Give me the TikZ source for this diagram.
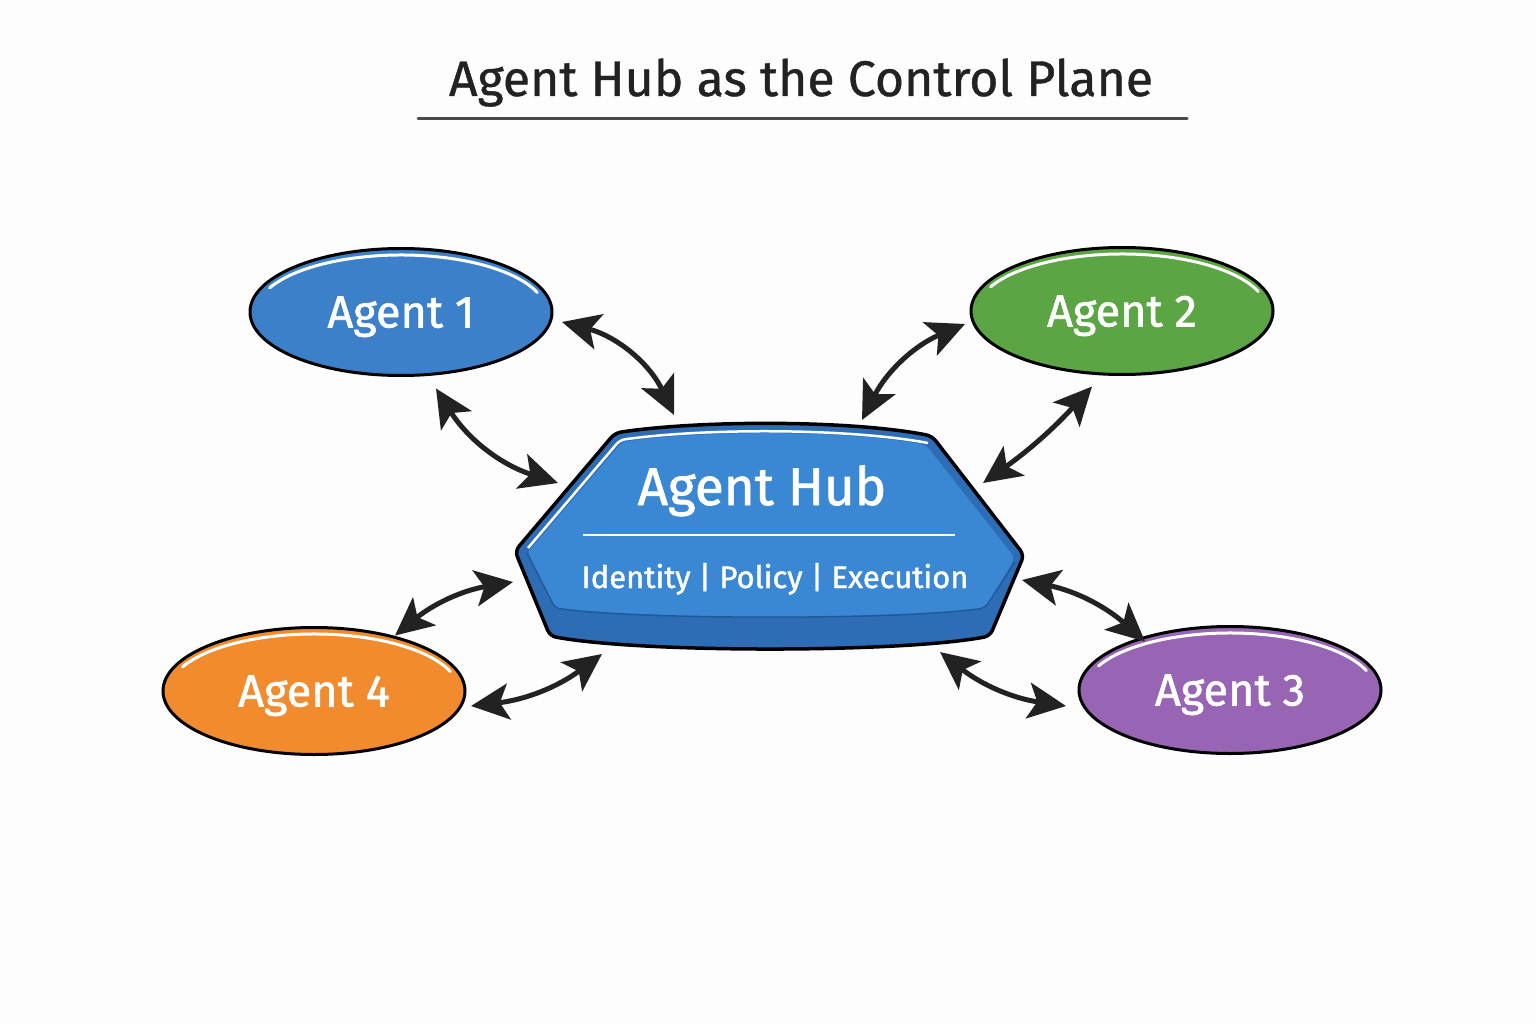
\documentclass[tikz,border=0pt]{standalone}
\usepackage{fontspec}
\setmainfont{Fira Sans}
\newfontfamily\medfont{Fira Sans}[FakeBold=1.3]
\newfontfamily\titlefont{Fira Sans}[FakeBold=0.8]
\usetikzlibrary{arrows.meta,shapes.geometric}
\definecolor{bgc}{HTML}{FDFDFD}
\definecolor{ablue}{HTML}{3B80C9}
\definecolor{agreen}{HTML}{5CA545}
\definecolor{aorange}{HTML}{F28B2E}
\definecolor{apurple}{HTML}{9865B5}
\definecolor{hubtop}{HTML}{3A88D4}
\definecolor{hubbot}{HTML}{2D6DB6}
\definecolor{hubline}{HTML}{1F5A9A}
\definecolor{ink}{HTML}{222222}
\definecolor{rule}{HTML}{4A4A4A}
\begin{document}
\begin{tikzpicture}[x=1pt,y=-1pt,
  agent/.style={ellipse, draw=black, line width=3pt, inner sep=0pt, outer sep=0pt,
    minimum width=302pt, minimum height=127pt, text=white, text depth=0pt,
    font=\medfont\fontsize{45}{48}\selectfont},
  dbl/.style={{Stealth[length=38pt,width=36pt,inset=9pt]}-{Stealth[length=38pt,width=36pt,inset=9pt]},
    line width=5pt, draw=ink},
  lbl/.style={text=white, inner sep=0pt, anchor=base},
  shine/.style={white, line width=3pt, line cap=round}]
\fill[bgc] (0,0) rectangle (1536,1024);
\useasboundingbox (0,0) rectangle (1536,1024);

% title
\node[anchor=base, inner sep=0pt, text=ink, font=\titlefont\fontsize{50}{54}\selectfont] (title) at (801,96) {Agent Hub as the Control Plane};
\draw[rule, line width=3pt, line cap=round] (418,119) -- (1187,119);

% agents
\node[agent, fill=ablue] (a1) at (401,312) {Agent 1};
\node[agent, fill=agreen] (a2) at (1122,311) {Agent 2};
\node[agent, fill=apurple] (a3) at (1230,690) {Agent 3};
\node[agent, fill=aorange] (a4) at (314,691) {Agent 4};
\foreach \a in {a1,a2,a3,a4}{
  \draw[shine] ([shift={(205:145 and 57)}]\a.center) arc[start angle=205, end angle=340, x radius=145, y radius=57];
}

% hub
\node[rectangle, draw=none, minimum width=509pt, minimum height=228pt, inner sep=0pt, outer sep=0pt] (hub) at (769.5,537) {};
\fill[hubbot, rounded corners=6pt] (615,433) .. controls (700,420) and (850,420) .. (932,436) -- (1024,555) -- (990,636)
  .. controls (900,653) and (640,653) .. (550,636) -- (515,551) -- cycle;
\fill[hubtop, rounded corners=5pt] (622,442) .. controls (705,430) and (848,430) .. (926,445) -- (1015,558) -- (985,608)
  .. controls (900,620) and (640,620) .. (555,608) -- (527,553) -- cycle;
\draw[hubline, line width=1.5pt, rounded corners=5pt] (527,553) -- (555,608) .. controls (640,620) and (900,620) .. (985,608) -- (1015,562);
\draw[white, line width=2.5pt, rounded corners=5pt] (528,548) -- (620,440) .. controls (705,428) and (848,428) .. (928,443);
\draw[black, line width=3.5pt, rounded corners=6pt] (615,433) .. controls (700,420) and (850,420) .. (932,436) -- (1024,555) -- (990,636)
  .. controls (900,653) and (640,653) .. (550,636) -- (515,551) -- cycle;
\node[lbl, font=\medfont\fontsize{53}{56}\selectfont] (hubtitle) at (762,505) {Agent Hub};
\draw[white, line width=2pt] (583,535) -- (955,535);
\node[lbl, font=\medfont\fontsize{31}{34}\selectfont] (hubsub) at (775,588) {Identity | Policy | Execution};

% connectors
\draw[dbl] ([shift={(10,10)}]a1.east) to[bend left=25] ([shift={(-95.5,-122)}]hub.center);
\draw[dbl] ([shift={(35,13)}]a1.south) to[bend right=20] ([shift={(-211.5,-54)}]hub.center);
\draw[dbl] ([shift={(-6,13)}]a2.west) to[bend right=20] ([shift={(92.5,-117)}]hub.center);
\draw[dbl] ([shift={(-30,12)}]a2.south) to[bend left=6] ([shift={(213.5,-54)}]hub.center);
\draw[dbl] ([shift={(81,8)}]a4.north) to[bend left=15] ([shift={(-256.5,45)}]hub.center);
\draw[dbl] ([shift={(6,15)}]a4.east) to[bend right=15] ([shift={(-167.5,117)}]hub.center);
\draw[dbl] ([shift={(-85,15)}]a3.north) to[bend right=15] ([shift={(252.5,43)}]hub.center);
\draw[dbl] ([shift={(-13,16)}]a3.west) to[bend left=15] ([shift={(170.5,115)}]hub.center);
\end{tikzpicture}
\end{document}
